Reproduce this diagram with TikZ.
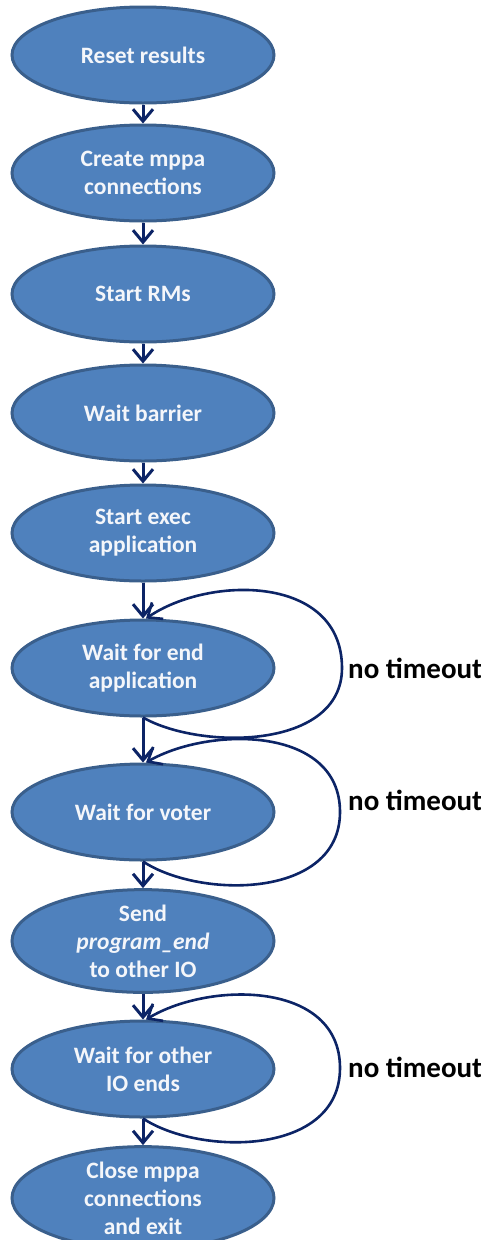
\documentclass[tikz,border=0pt]{standalone}
\usepackage{fontspec}
\setmainfont{Carlito}
\usetikzlibrary{shapes.geometric,arrows.meta}
\definecolor{boxfill}{HTML}{4F81BD}
\definecolor{boxline}{HTML}{3A5F8C}
\definecolor{boxtext}{HTML}{F4F6FA}
\definecolor{arrowc}{HTML}{0C2466}
\tikzset{
  stepnode/.style={ellipse, draw=boxline, fill=boxfill, line width=3pt,
    minimum width=262pt, minimum height=96pt, inner sep=0pt, align=center,
    text=boxtext, font=\fontsize{23.5}{28}\selectfont\bfseries},
  flowarrow/.style={draw=arrowc, line width=3pt,
    -{Straight Barb[length=12pt,width=20pt,line width=3pt]}},
  looparrow/.style={draw=arrowc, line width=2.6pt,
    -{Straight Barb[length=12pt,width=20pt,line width=2.6pt]}},
  looplabel/.style={anchor=west, inner sep=0pt, font=\fontsize{29}{32}\selectfont\bfseries}
}
\begin{document}
\begin{tikzpicture}[x=1pt,y=-1pt]
\useasboundingbox (0,0) rectangle (481,1240);
\node[stepnode] (reset) at (143,55) {Reset results};
\node[stepnode] (create) at (143,173) {Create mppa\\connections};
\node[stepnode] (rms) at (143,294) {Start RMs};
\node[stepnode] (barrier) at (143,413) {Wait barrier};
\node[stepnode] (exec) at (143,533) {Start exec\\application};
\node[stepnode] (wend) at (143,668) {Wait for end\\application};
\node[stepnode] (voter) at (143,812) {Wait for voter};
\node[stepnode] (send) at (143,941) {Send\\\textit{program\_end}\\to other IO};
\node[stepnode] (wother) at (143,1069) {Wait for other\\IO ends};
\node[stepnode] (close) at (143,1198) {Close mppa\\connections\\and exit};

\draw[flowarrow] (reset.south) -- (create.north);
\draw[flowarrow] (create.south) -- (rms.north);
\draw[flowarrow] (rms.south) -- (barrier.north);
\draw[flowarrow] (barrier.south) -- (exec.north);
\draw[flowarrow] (exec.south) -- (wend.north);
\draw[flowarrow] (wend.south) -- (voter.north);
\draw[flowarrow] (voter.south) -- (send.north);
\draw[flowarrow] (send.south) -- (wother.north);
\draw[flowarrow] (wother.south) -- (close.north);

\coordinate (r1) at (342,668);
\coordinate (r2) at (340,812);
\coordinate (r3) at (340,1068);
\draw[looparrow] (wend.south) .. controls (200,750) and (342,750) .. (r1)
  .. controls (342,575) and (210,575) .. ([xshift=3pt]wend.north);
\draw[looparrow] (voter.south) .. controls (200,899) and (340,899) .. (r2)
  .. controls (340,726) and (210,726) .. ([xshift=3pt]voter.north);
\draw[looparrow] (wother.south) .. controls (200,1156) and (340,1156) .. (r3)
  .. controls (340,981) and (210,981) .. ([xshift=3pt]wother.north);

\node[looplabel] (t1) at (348,668) {no timeout};
\node[looplabel] (t2) at (348,800) {no timeout};
\node[looplabel] (t3) at (348,1067) {no timeout};
\end{tikzpicture}
\end{document}
